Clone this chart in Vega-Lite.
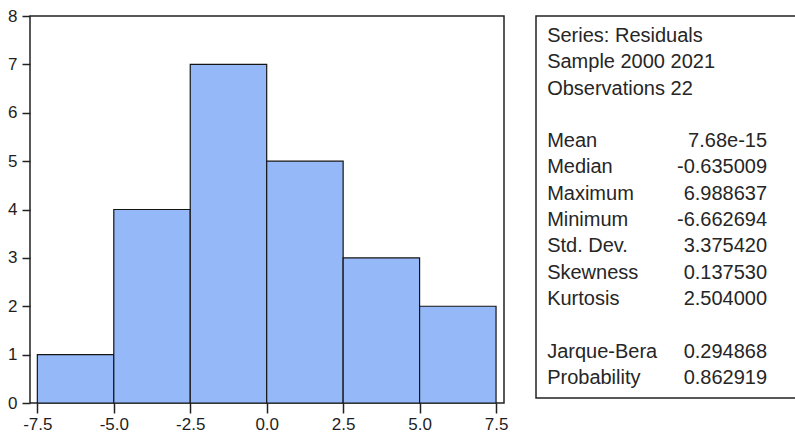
{
  "$schema": "https://vega.github.io/schema/vega-lite/v6.json",
  "autosize": {"type": "pad"},
  "padding": {"left": 6, "top": 6, "right": 0, "bottom": 0},
  "background": "white",
  "spacing": 32,
  "bounds": "flush",
  "config": {
    "locale": {"number": {"decimal": ".", "thousands": ",", "grouping": [3], "currency": ["$", ""], "minus": "-"}},
    "view": {"stroke": "#222", "strokeWidth": 1.5},
    "axis": {
      "grid": false,
      "domain": false,
      "labelFont": "Liberation Sans",
      "labelFontSize": 17,
      "labelColor": "#1e1e1e",
      "tickColor": "#222",
      "tickWidth": 1.5,
      "title": null
    },
    "text": {"font": "Liberation Sans", "fontSize": 20, "color": "#262626"}
  },
  "datasets": {
    "bins": [
      {"bin_start": -7.5, "bin_end": -5.0, "count": 1},
      {"bin_start": -5.0, "bin_end": -2.5, "count": 4},
      {"bin_start": -2.5, "bin_end": 0.0, "count": 7},
      {"bin_start": 0.0, "bin_end": 2.5, "count": 5},
      {"bin_start": 2.5, "bin_end": 5.0, "count": 3},
      {"bin_start": 5.0, "bin_end": 7.5, "count": 2}
    ],
    "stats": [
      {"line": 0, "label": "Series: Residuals", "value": ""},
      {"line": 1, "label": "Sample 2000 2021", "value": ""},
      {"line": 2, "label": "Observations 22", "value": ""},
      {"line": 4, "label": "Mean", "value": "7.68e-15"},
      {"line": 5, "label": "Median", "value": "-0.635009"},
      {"line": 6, "label": "Maximum", "value": "6.988637"},
      {"line": 7, "label": "Minimum", "value": "-6.662694"},
      {"line": 8, "label": "Std. Dev.", "value": "3.375420"},
      {"line": 9, "label": "Skewness", "value": "0.137530"},
      {"line": 10, "label": "Kurtosis", "value": "2.504000"},
      {"line": 12, "label": "Jarque-Bera", "value": "0.294868"},
      {"line": 13, "label": "Probability", "value": "0.862919"}
    ]
  },
  "hconcat": [
    {
      "width": 474,
      "height": 387,
      "data": {"name": "bins"},
      "mark": {"type": "rect", "fill": "#95b9f8", "stroke": "#151515", "strokeWidth": 1.2},
      "encoding": {
        "x": {
          "field": "bin_start",
          "type": "quantitative",
          "scale": {"domain": [-7.74, 7.76], "nice": false, "zero": false},
          "axis": {"values": [-7.5, -5.0, -2.5, 0.0, 2.5, 5.0, 7.5], "format": ".1f", "tickSize": 10, "labelPadding": 3}
        },
        "x2": {"field": "bin_end"},
        "y": {
          "field": "count",
          "type": "quantitative",
          "scale": {"domain": [0, 8], "nice": false},
          "axis": {"values": [0, 1, 2, 3, 4, 5, 6, 7, 8], "tickSize": 8, "labelPadding": 5}
        },
        "y2": {"datum": 0}
      }
    },
    {
      "width": 265,
      "height": 382,
      "data": {"name": "stats"},
      "encoding": {
        "y": {
          "field": "line",
          "type": "quantitative",
          "scale": {"domain": [-0.99, 13.54], "nice": false, "zero": false, "reverse": true},
          "axis": null
        }
      },
      "layer": [
        {
          "mark": {"type": "text", "align": "left", "baseline": "alphabetic"},
          "encoding": {
            "x": {"datum": 0.042, "type": "quantitative", "scale": {"domain": [0, 1], "nice": false}, "axis": null},
            "text": {"field": "label"}
          }
        },
        {
          "mark": {"type": "text", "align": "right", "baseline": "alphabetic"},
          "encoding": {
            "x": {"datum": 0.872, "type": "quantitative", "scale": {"domain": [0, 1], "nice": false}, "axis": null},
            "text": {"field": "value"}
          }
        }
      ]
    }
  ]
}
